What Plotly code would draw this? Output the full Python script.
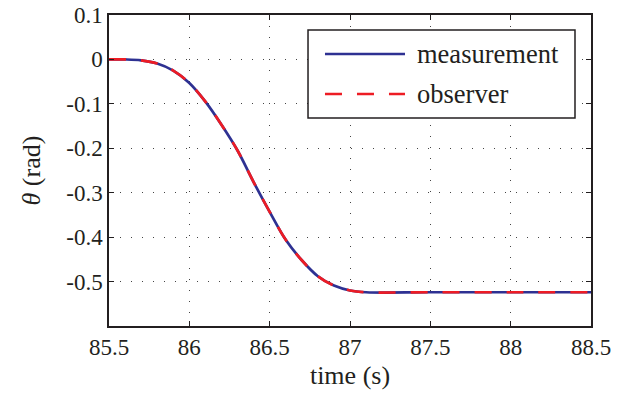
import plotly.graph_objects as go

time_s = [85.5, 85.6, 85.7, 85.8, 85.9, 86.0, 86.1, 86.2, 86.3, 86.4, 86.5,
          86.6, 86.7, 86.8, 86.9, 87.0, 87.1, 87.5, 88.0, 88.5]
theta_measurement = [0.0, 0.0, -0.002, -0.009, -0.025, -0.053, -0.095, -0.147,
                     -0.205, -0.276, -0.343, -0.406, -0.452, -0.488, -0.509,
                     -0.520, -0.524, -0.524, -0.524, -0.524]
theta_observer = [0.0, 0.0, -0.002, -0.009, -0.025, -0.053, -0.095, -0.147,
                  -0.205, -0.276, -0.343, -0.406, -0.452, -0.488, -0.509,
                  -0.520, -0.524, -0.524, -0.524, -0.524]

series_names = ["measurement", "observer"]
series_colors = ["#2E3192", "#ED1C24"]
series_dashes = ["solid", "17px,15px"]

x_tickvals = [85.5, 86, 86.5, 87, 87.5, 88, 88.5]
x_ticktext = ["85.5", "86", "86.5", "87", "87.5", "88", "88.5"]
y_tickvals = [0.1, 0, -0.1, -0.2, -0.3, -0.4, -0.5, -0.6]
y_ticktext = ["0.1", "0", "-0.1", "-0.2", "-0.3", "-0.4", "-0.5", ""]

FONT = "Liberation Serif, Times New Roman, serif"
INK = "#231F20"

fig = go.Figure()
for name, ys, col, dash in zip(series_names, [theta_measurement, theta_observer],
                               series_colors, series_dashes):
    fig.add_trace(go.Scatter(x=time_s, y=ys, mode="lines", name=name,
                             line_shape="spline", showlegend=False,
                             line=dict(color=col, width=2.7, dash=dash)))

axis_common = dict(showline=True, linecolor=INK, linewidth=1.5, mirror="ticks",
                   ticks="inside", ticklen=5, tickcolor=INK, tickwidth=1,
                   showgrid=True, gridcolor="#444444", gridwidth=1, griddash="1px,10px",
                   zeroline=False, automargin=False, ticklabeloverflow="allow")

fig.update_xaxes(range=[85.5, 88.5], tickvals=x_tickvals, ticktext=x_ticktext,
                 title=dict(text="time (s)", font=dict(family=FONT, size=26, color=INK),
                            standoff=6),
                 **axis_common)
fig.update_yaxes(range=[-0.6, 0.1], tickvals=y_tickvals, ticktext=y_ticktext,
                 title=dict(text="<i>θ</i> (rad)", font=dict(family=FONT, size=26, color=INK),
                            standoff=18),
                 **axis_common)
fig.update_xaxes(tickfont_family=FONT, tickfont_size=23, tickfont_color=INK)
fig.update_yaxes(tickfont_family=FONT, tickfont_size=23, tickfont_color=INK)

# manual legend (box, samples, labels) in paper coordinates
shapes = [dict(type="rect", xref="paper", yref="paper", x0=0.4129, x1=0.9668,
               y0=0.6688, y1=0.9518, line=dict(color=INK, width=1.5), fillcolor="white",
               layer="above")]
annotations = []
legend_rows_y = [0.8746, 0.7460]
for name, col, dash, yy in zip(series_names, series_colors, series_dashes, legend_rows_y):
    shapes.append(dict(type="line", xref="paper", yref="paper", x0=0.4481, x1=0.6141,
                       y0=yy, y1=yy, line=dict(color=col, width=2.7, dash=dash),
                       layer="above"))
    annotations.append(dict(xref="paper", yref="paper", x=0.6349, y=yy, text=name,
                            showarrow=False, xanchor="left", yanchor="middle",
                            font=dict(family=FONT, size=26.5, color=INK)))

fig.update_layout(
    width=622, height=397,
    margin=dict(l=109, r=31, t=15, b=71),
    paper_bgcolor="white", plot_bgcolor="white",
    font=dict(family=FONT, color=INK),
    showlegend=False,
    shapes=shapes, annotations=annotations,
)

# remove the browser's default 8px body margin so the figure fills the window
fig.write_html("out.html", config={"displayModeBar": False},
               post_script="document.body.style.margin='0';")
